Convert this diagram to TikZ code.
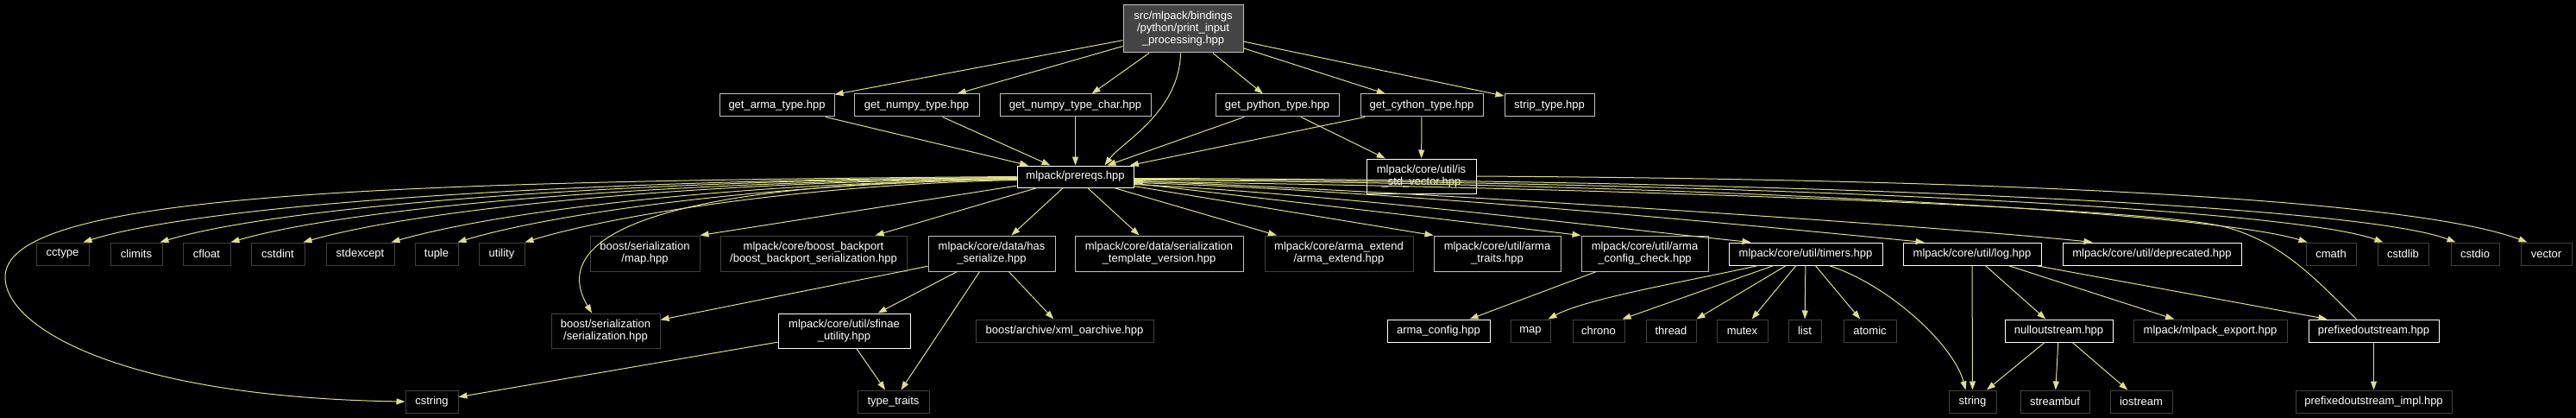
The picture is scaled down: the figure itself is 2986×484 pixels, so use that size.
\documentclass[tikz,border=0pt]{standalone}
\usepackage{fontspec}
\setmainfont{Liberation Sans}
\usetikzlibrary{arrows.meta}
\definecolor{ecol}{HTML}{DEDE8C}
\definecolor{lgrey}{HTML}{BFBFBF}
\definecolor{dgrey}{HTML}{404040}
\definecolor{topfill}{HTML}{444444}
\begin{document}
\begin{tikzpicture}[x=1pt,y=-1pt,
  nbox/.style={draw, fill=black, text=white, font=\fontsize{13}{14}\selectfont, inner sep=0pt, align=center, line width=1pt},
  wb/.style={nbox, draw=white},
  lb/.style={nbox, draw=lgrey},
  db/.style={nbox, draw=dgrey},
  sz/.style 2 args={minimum width=#1pt, minimum height=#2pt},
  conn/.style={draw=ecol, line width=1pt, -{Triangle[length=10pt,width=7pt]}}
]
\fill[black] (0,0) rectangle (2986,484);
\useasboundingbox (0,0) rectangle (2986,484);

% top
\node[lb, sz={139}{55}, fill=topfill] (top) at (1371.5,33.5) {src/mlpack/bindings\\/python/print\_input\\\_processing.hpp};
% row 1
\node[lb, sz={133}{26}] (gat) at (900.5,122) {get\_arma\_type.hpp};
\node[lb, sz={145}{26}] (gnt) at (1062.5,122) {get\_numpy\_type.hpp};
\node[lb, sz={175}{26}] (gntc) at (1246.5,122) {get\_numpy\_type\_char.hpp};
\node[lb, sz={143}{26}] (gpt) at (1480.5,122) {get\_python\_type.hpp};
\node[lb, sz={142}{26}] (gct) at (1648,122) {get\_cython\_type.hpp};
\node[lb, sz={104}{26}] (strip) at (1796,122) {strip\_type.hpp};
% row 2
\node[wb, sz={135}{25}] (prereqs) at (1246.5,204.5) {mlpack/prereqs.hpp};
\node[wb, sz={127}{40}] (isv) at (1647.5,204) {mlpack/core/util/is\\\_std\_vector.hpp};
% row 3
\node[db, sz={61}{26}] (cctype) at (72.5,294) {cctype};
\node[db, sz={60}{26}] (climits) at (158,294) {climits};
\node[db, sz={55}{26}] (cfloat) at (239.5,294) {cfloat};
\node[db, sz={62}{26}] (cstdint) at (322,294) {cstdint};
\node[db, sz={79}{26}] (stdexcept) at (417.5,294) {stdexcept};
\node[db, sz={50}{26}] (tuple) at (506,294) {tuple};
\node[db, sz={53}{26}] (utility) at (581.5,294) {utility};
\node[db, sz={127}{41}] (maphpp) at (747.5,293.5) {boost/serialization\\/map.hpp};
\node[db, sz={216}{41}] (backport) at (943,293.5) {mlpack/core/boost\_backport\\/boost\_backport\_serialization.hpp};
\node[lb, sz={147}{41}] (hasser) at (1149.5,293.5) {mlpack/core/data/has\\\_serialize.hpp};
\node[lb, sz={195}{41}] (stv) at (1343.5,293.5) {mlpack/core/data/serialization\\\_template\_version.hpp};
\node[db, sz={172}{41}] (armaext) at (1552,293.5) {mlpack/core/arma\_extend\\/arma\_extend.hpp};
\node[lb, sz={147}{41}] (armatraits) at (1735.5,293.5) {mlpack/core/util/arma\\\_traits.hpp};
\node[lb, sz={147}{41}] (acc) at (1906.5,293.5) {mlpack/core/util/arma\\\_config\_check.hpp};
\node[wb, sz={178}{26}] (timers) at (2093,294) {mlpack/core/util/timers.hpp};
\node[wb, sz={160}{26}] (log) at (2286,294) {mlpack/core/util/log.hpp};
\node[wb, sz={207}{26}] (deprecated) at (2494.5,294) {mlpack/core/util/deprecated.hpp};
\node[db, sz={58}{26}] (cmath) at (2702,294) {cmath};
\node[db, sz={59}{26}] (cstdlib) at (2785.5,294) {cstdlib};
\node[db, sz={56}{26}] (cstdio) at (2869,294) {cstdio};
\node[db, sz={59}{26}] (vector) at (2951.5,294) {vector};
% row 4
\node[db, sz={126}{40}] (serhpp) at (702,383) {boost/serialization\\/serialization.hpp};
\node[wb, sz={153}{40}] (sfinae) at (978.5,383) {mlpack/core/util/sfinae\\\_utility.hpp};
\node[db, sz={206}{26}] (xml) at (1234,383) {boost/archive/xml\_oarchive.hpp};
\node[wb, sz={119}{26}] (armaconfig) at (1667.5,383) {arma\_config.hpp};
\node[db, sz={46}{26}] (map) at (1774,383) {map};
\node[db, sz={60}{26}] (chrono) at (1853,383) {chrono};
\node[db, sz={58}{26}] (thread) at (1937,383) {thread};
\node[db, sz={59}{26}] (mutex) at (2019.5,383) {mutex};
\node[db, sz={38}{26}] (list) at (2092,383) {list};
\node[db, sz={61}{26}] (atomic) at (2167.5,383) {atomic};
\node[wb, sz={125}{26}] (nullout) at (2386.5,383) {nulloutstream.hpp};
\node[db, sz={178}{26}] (export) at (2562,383) {mlpack/mlpack\_export.hpp};
\node[wb, sz={151}{26}] (pos) at (2751.5,383) {prefixedoutstream.hpp};
% row 5
\node[db, sz={61}{26}] (cstring) at (500.5,465) {cstring};
\node[db, sz={83}{26}] (typetraits) at (1035.5,465) {type\_traits};
\node[db, sz={55}{26}] (string) at (2286.5,465) {string};
\node[db, sz={80}{26}] (streambuf) at (2382,465) {streambuf};
\node[db, sz={72}{26}] (iostream) at (2482,465) {iostream};
\node[db, sz={181}{26}] (posimpl) at (2751.5,465) {prefixedoutstream\_impl.hpp};

% edges from top
\draw[conn] (top) -- (gat);
\draw[conn] (top) -- (gnt);
\draw[conn] (top) -- (gntc);
\draw[conn] ([xshift=-3pt]top.south) .. controls (1367,130) and (1300,165) .. ([xshift=34pt]prereqs.north);
\draw[conn] (top) -- (gpt);
\draw[conn] (top) -- (gct);
\draw[conn] (top) -- (strip);
% row 1 to prereqs / isv
\draw[conn] (gat) -- (prereqs);
\draw[conn] (gnt) -- (prereqs);
\draw[conn] (gntc) -- (prereqs);
\draw[conn] (gpt) -- (prereqs);
\draw[conn] (gpt) -- (isv);
\draw[conn] (gct) -- (prereqs);
\draw[conn] (gct) -- (isv);
\draw[conn] (isv.east) .. controls (2350,208) and (2800,232) .. ([xshift=8pt]vector.north west);
% prereqs to the left
\draw[conn] ([yshift=-1pt]prereqs.west) .. controls (650,208) and (230,238) .. ([xshift=-7pt]cctype.north east);
\draw[conn] ([yshift=-1pt]prereqs.west) .. controls (700,209) and (320,240) .. ([xshift=-3pt]climits.north east);
\draw[conn] ([yshift=-2pt]prereqs.west) .. controls (740,210) and (400,242) .. (cfloat.north east);
\draw[conn] ([yshift=-2pt]prereqs.west) .. controls (780,211) and (480,244) .. ([xshift=-2pt]cstdint.north east);
\draw[conn] ([yshift=-3pt]prereqs.west) .. controls (830,212) and (570,247) .. ([xshift=-4pt]stdexcept.north east);
\draw[conn] ([yshift=-3pt]prereqs.west) .. controls (870,213) and (630,250) .. ([xshift=-1pt]tuple.north east);
\draw[conn] ([yshift=-4pt]prereqs.west) .. controls (920,214) and (700,252) .. (utility.north east);
\draw[conn] (prereqs) -- (maphpp.north east);
\draw[conn] (prereqs) -- (backport);
\draw[conn] ([yshift=-3pt]prereqs.west) .. controls (720,212) and (640,285) .. ([xshift=-16pt]serhpp.north);
\draw[conn] ([yshift=0pt]prereqs.west) .. controls (400,210) and (0,228) .. (6,323) .. controls (9.8,383) and (150,460) .. (cstring.west);
% prereqs below / right
\draw[conn] (prereqs) -- (hasser);
\draw[conn] (prereqs) -- (stv);
\draw[conn] (prereqs) -- (armaext);
\draw[conn] (prereqs) -- (armatraits.north west);
\draw[conn] (prereqs) -- (acc.north west);
\draw[conn] ([yshift=-9pt]prereqs.east) .. controls (1550,225) and (1850,262) .. ([xshift=26pt]timers.north west);
\draw[conn] ([yshift=-7pt]prereqs.east) .. controls (1600,220) and (2000,258) .. ([xshift=25pt]log.north west);
\draw[conn] ([yshift=-5pt]prereqs.east) .. controls (1650,222) and (2250,262) .. ([xshift=35pt]deprecated.north west);
\draw[conn] ([yshift=-4pt]prereqs.east) .. controls (1950,212) and (2560,245) .. ([xshift=2pt]cmath.north west);
\draw[conn] ([yshift=-3pt]prereqs.east) .. controls (2000,210) and (2650,240) .. ([xshift=7pt]cstdlib.north west);
\draw[conn] ([yshift=-2pt]prereqs.east) .. controls (2050,208) and (2730,236) .. ([xshift=6pt]cstdio.north west);
% has_serialize
\draw[conn] (hasser) -- (serhpp);
\draw[conn] (hasser) -- (sfinae);
\draw[conn] (hasser) -- (typetraits);
\draw[conn] (hasser) -- (xml);
% sfinae
\draw[conn] (sfinae) -- (cstring);
\draw[conn] (sfinae) -- (typetraits);
% arma config check
\draw[conn] (acc) -- (armaconfig);
% timers
\draw[conn] ([xshift=-55pt]timers.south) .. controls (1960,325) and (1840,345) .. ([xshift=-3pt]map.north east);
\draw[conn] ([xshift=-37pt]timers.south) -- ([xshift=-3pt]chrono.north east);
\draw[conn] (timers) -- (thread.north east);
\draw[conn] (timers) -- (mutex);
\draw[conn] (timers) -- (list);
\draw[conn] (timers) -- (atomic);
\draw[conn] ([xshift=27pt]timers.south) .. controls (2190,330) and (2265,400) .. ([xshift=-8pt]string.north);
% log
\draw[conn] (log) -- (string);
\draw[conn] (log) -- (nullout);
\draw[conn] (log) -- (export);
\draw[conn] (log) -- ([xshift=22pt]pos.north west);
% nulloutstream
\draw[conn] (nullout) -- (string);
\draw[conn] (nullout) -- (streambuf);
\draw[conn] (nullout) -- (iostream);
% prefixedoutstream
\draw[conn] (pos) -- (posimpl);
\draw[conn] ([xshift=-20pt]pos.north) .. controls (2690,330) and (2650,282) .. (2580,263) .. controls (2490,238) and (1750,215) .. ([yshift=-6pt]prereqs.east);
\end{tikzpicture}
\end{document}
